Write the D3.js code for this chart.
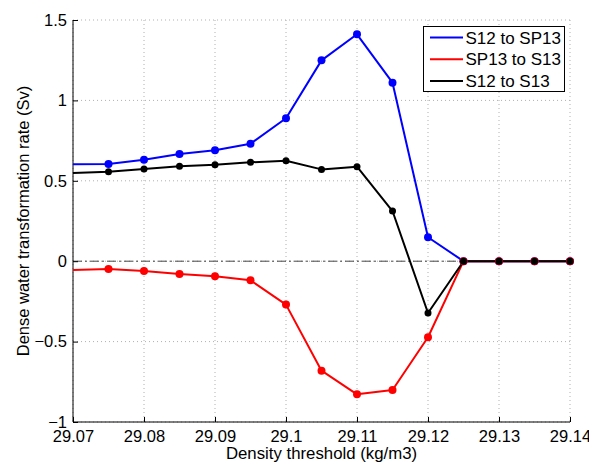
<!DOCTYPE html>
<html><head><meta charset="utf-8">
<script src="https://cdn.jsdelivr.net/npm/d3@7/dist/d3.min.js"></script>
<style>body{margin:0;background:#fff}svg{display:block}text{font-family:"Liberation Sans",Arial,Helvetica,sans-serif}</style>
</head><body><svg id="c" width="589" height="462"></svg>
<script>
const density = [29.065,29.07,29.075,29.08,29.085,29.09,29.095,29.1,29.105,29.11,29.115,29.12,29.125,29.13,29.135,29.14];
const markerFrom = 2; // index of first plotted marker (earlier points lie outside axes)
const s12ToSp13 = [0.600,0.603,0.605,0.631,0.667,0.690,0.731,0.889,1.249,1.411,1.110,0.149,0,0,0,0];
const sp13ToS13 = [-0.062,-0.055,-0.048,-0.061,-0.080,-0.094,-0.119,-0.270,-0.681,-0.828,-0.801,-0.473,0,0,0,0];
const s12ToS13 = [0.541,0.549,0.557,0.573,0.590,0.600,0.615,0.625,0.571,0.588,0.312,-0.322,0,0,0,0];
const seriesNames = ["S12 to SP13","SP13 to S13","S12 to S13"];
const seriesColors = ["#0000ff","#ff0000","#000000"];
const xTicks = [29.07,29.08,29.09,29.1,29.11,29.12,29.13,29.14];
const yTicks = [-1,-0.5,0,0.5,1,1.5];

const svg = d3.select("#c");
const L=73,R=570,T=20,B=422;
const x = d3.scaleLinear().domain([29.07,29.14]).range([L,R]);
const y = d3.scaleLinear().domain([-1,1.5]).range([B,T]);

svg.append("defs").append("clipPath").attr("id","pc").append("rect")
  .attr("x",L).attr("y",T).attr("width",R-L).attr("height",B-T);

// grid
const g = svg.append("g");
g.selectAll(".vg").data(xTicks).join("line")
  .attr("x1",d=>x(d)).attr("x2",d=>x(d)).attr("y1",T).attr("y2",B)
  .attr("stroke","#b0b0b0").attr("stroke-width",1).attr("stroke-dasharray","1,3");
g.selectAll(".hg").data(yTicks).join("line")
  .attr("y1",d=>y(d)).attr("y2",d=>y(d)).attr("x1",L).attr("x2",R)
  .attr("stroke","#b0b0b0").attr("stroke-width",1).attr("stroke-dasharray","1,3");

// zero line
svg.append("line").attr("x1",L).attr("x2",R).attr("y1",y(0)).attr("y2",y(0))
  .attr("stroke","#444").attr("stroke-width",1).attr("stroke-dasharray","9,3,2,3");

// axes
const fmt = d => d3.format("")(d).replace("-","\u2212");
const xAxis = svg.append("g").attr("transform",`translate(0,${B})`)
  .call(d3.axisBottom(x).tickValues(xTicks).tickSize(-5).tickPadding(8).tickFormat(d=>String(+d.toFixed(2))));
const yAxis = svg.append("g").attr("transform",`translate(${L},0)`)
  .call(d3.axisLeft(y).tickValues(yTicks).tickSize(-5).tickPadding(6).tickFormat(fmt));
[xAxis,yAxis].forEach(a=>{
  a.select(".domain").attr("stroke","#000").attr("stroke-width",1);
  a.selectAll(".tick line").attr("stroke","#000");
  a.selectAll("text").attr("font-size",16.5).attr("fill","#000").style("font-family",'"Liberation Sans",Arial,sans-serif');
});
yAxis.select(".domain").attr("d",`M0,${B}V${T}`);
xAxis.select(".domain").attr("d",`M${L},0H${R}`);

// series
const all = [s12ToSp13, sp13ToS13, s12ToS13];
const line = d3.line().x((d,i)=>x(density[i])).y(d=>y(d));
const plot = svg.append("g").attr("clip-path","url(#pc)");
all.forEach((vals,k)=>{
  plot.append("path").attr("d",line(vals)).attr("fill","none")
    .attr("stroke",seriesColors[k]).attr("stroke-width",2).attr("stroke-linejoin","round");
});
all.forEach((vals,k)=>{
  svg.append("g").selectAll("circle").data(vals.map((v,i)=>[density[i],v]).slice(markerFrom)).join("circle")
    .attr("cx",d=>x(d[0])).attr("cy",d=>y(d[1])).attr("r",k===2?3.5:4).attr("fill",seriesColors[k]);
});

// labels
svg.append("text").attr("x",(L+R)/2).attr("y",458.5).attr("text-anchor","middle")
  .attr("font-size",16.8).text("Density threshold (kg/m3)");
svg.append("text").attr("transform",`translate(28.5,${(T+B)/2}) rotate(-90)`).attr("text-anchor","middle")
  .attr("font-size",16.5).text("Dense water transformation rate (Sv)");

// legend
const lg = svg.append("g");
lg.append("rect").attr("x",423.5).attr("y",26.5).attr("width",141).attr("height",65)
  .attr("fill","#fff").attr("stroke","#000").attr("stroke-width",1);
seriesNames.forEach((n,i)=>{
  const yy = 37.5 + i*21.8;
  lg.append("line").attr("x1",430).attr("x2",463).attr("y1",yy).attr("y2",yy)
    .attr("stroke",seriesColors[i]).attr("stroke-width",2);
  lg.append("text").attr("x",465.5).attr("y",yy+6).attr("font-size",17).text(n);
});
</script></body></html>
